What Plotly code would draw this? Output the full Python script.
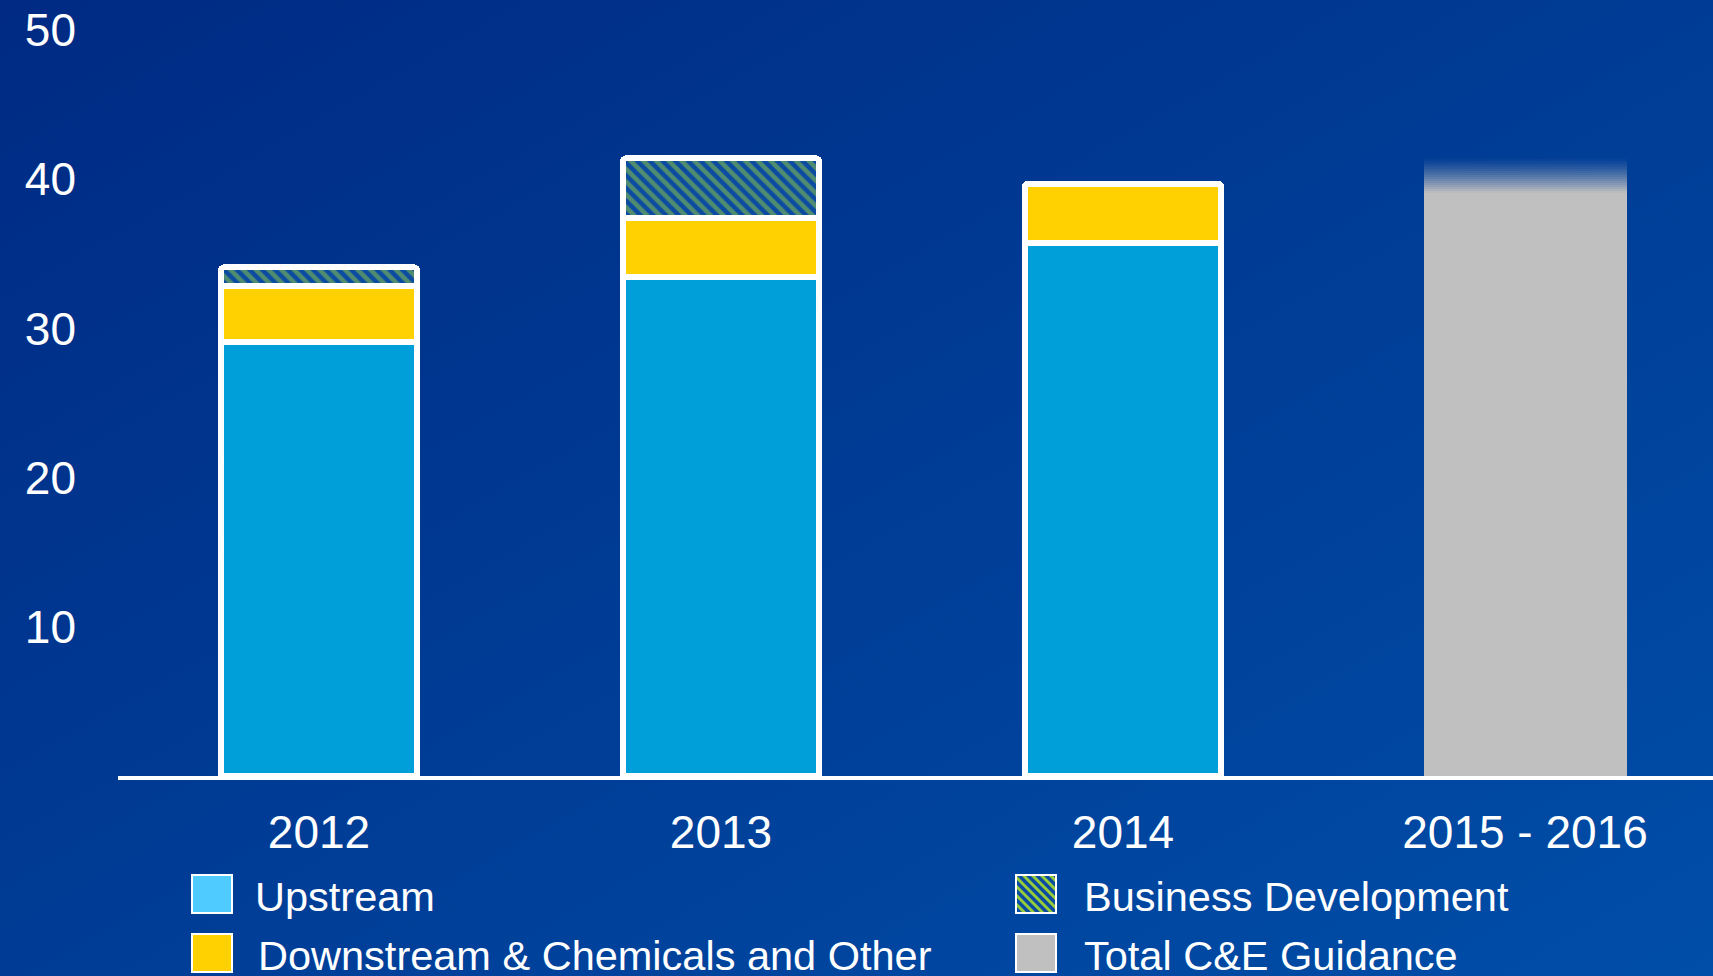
import base64
import plotly.graph_objects as go

# Capital & exploration spend by segment (billions)
categories = ["2012", "2013", "2014", "2015 - 2016"]
upstream = [29.1, 33.45, 35.7, None]
downstream_chem_other = [3.75, 3.95, 4.0, None]
business_development = [1.25, 4.0, None, None]
guidance_low = [None, None, None, 39.1]
guidance_high = [None, None, None, 41.5]
y_ticks = [10, 20, 30, 40, 50]

legend_labels = ["Upstream", "Downstream & Chemicals and Other",
                 "Business Development", "Total C&E Guidance"]

# Page geometry
W, H = 1713, 976
ML, MR, MT, MB = 118, 0, 30, 200
PW, PH = W - ML - MR, H - MT - MB

FONT = "Liberation Sans, Arial, sans-serif"
C_UP = "#009FDA"
C_UP_KEY = "#4FCBFF"
C_DOWN = "#FFD100"
C_BD_LINE = "#96CB3C"
C_BD_BG = "#0B4CA2"
C_GUIDE = "#C0C0C0"
GUIDE_WIDTH = 0.505


def px(x):
    return (x - ML) / PW


def py(y):
    return (H - MB - y) / PH


fig = go.Figure()

outline = dict(color="white", width=6)

fig.add_trace(go.Bar(x=categories, y=upstream, name=legend_labels[0],
                     marker=dict(color=C_UP, line=outline), showlegend=False))
fig.add_trace(go.Bar(x=categories, y=downstream_chem_other, name=legend_labels[1],
                     marker=dict(color=C_DOWN, line=outline), showlegend=False))
fig.add_trace(go.Bar(x=categories, y=business_development, name=legend_labels[2],
                     marker=dict(color=C_BD_BG, line=outline,
                                 pattern=dict(shape="\\", fgcolor=C_BD_LINE,
                                              bgcolor=C_BD_BG, size=9,
                                              solidity=0.5)),
                     showlegend=False))

# Guidance bar: solid up to the low end, soft fade up to the high end
fig.add_trace(go.Bar(x=categories, y=guidance_low, name=legend_labels[3],
                     width=GUIDE_WIDTH,
                     marker=dict(color=C_GUIDE, line=dict(width=0)),
                     showlegend=False))
n_fade = 18
for i in range(n_fade):
    seg = [None if (lo is None or hi is None) else (hi - lo) / n_fade
           for lo, hi in zip(guidance_low, guidance_high)]
    alpha = (1 - (i + 0.5) / n_fade) ** 1.3
    fig.add_trace(go.Bar(x=categories, y=seg, width=GUIDE_WIDTH,
                         marker=dict(color=f"rgba(192,192,192,{alpha:.3f})",
                                     line=dict(width=0)),
                         showlegend=False, hoverinfo="skip"))

# Background gradient
svg = (
    f"<svg xmlns='http://www.w3.org/2000/svg' width='{W}' height='{H}' "
    f"viewBox='0 0 {W} {H}' preserveAspectRatio='none'>"
    "<defs><linearGradient id='g' x1='0' y1='0' x2='1' y2='1'>"
    "<stop offset='0' stop-color='#002A83'/>"
    "<stop offset='1' stop-color='#004EA8'/>"
    "</linearGradient></defs>"
    f"<rect width='{W}' height='{H}' fill='url(#g)'/></svg>"
)
bg_src = "data:image/svg+xml;base64," + base64.b64encode(svg.encode()).decode()

images = [dict(source=bg_src, xref="paper", yref="paper",
               x=px(0), y=py(0), sizex=W / PW, sizey=H / PH,
               xanchor="left", yanchor="top", sizing="stretch",
               layer="below")]

# Custom legend
shapes = []
annotations = []
key_w, key_h = 40, 38
entries = [
    (legend_labels[0], C_UP_KEY, False, 192, 875, 253),
    (legend_labels[1], C_DOWN, False, 192, 934, 256),
    (legend_labels[2], C_BD_BG, True, 1016, 875, 1082),
    (legend_labels[3], C_GUIDE, False, 1016, 934, 1082),
]
for label, color, hatched, kx, ky, tx in entries:
    x0, x1, y0, y1 = kx, kx + key_w, ky, ky + key_h
    shapes.append(dict(type="rect", xref="paper", yref="paper",
                       x0=px(x0), x1=px(x1), y0=py(y1), y1=py(y0),
                       fillcolor=color, line=dict(width=0), layer="above"))
    if hatched:
        step = 9
        parts = []
        c = -(y1 - y0)
        while c < (x1 - x0):
            if c >= 0:
                sx, sy = x0 + c, y0
            else:
                sx, sy = x0, y0 - c
            t = min(x1 - sx, y1 - sy)
            parts.append(f"M{px(sx):.5f},{py(sy):.5f} L{px(sx + t):.5f},{py(sy + t):.5f}")
            c += step
        shapes.append(dict(type="path", xref="paper", yref="paper",
                           path=" ".join(parts),
                           line=dict(color=C_BD_LINE, width=3), layer="above"))
    shapes.append(dict(type="rect", xref="paper", yref="paper",
                       x0=px(x0), x1=px(x1), y0=py(y1), y1=py(y0),
                       fillcolor="rgba(0,0,0,0)",
                       line=dict(color="white", width=2), layer="above"))
    annotations.append(dict(text=label, xref="paper", yref="paper",
                            x=px(tx), y=py((y0 + y1) / 2 + 2),
                            xanchor="left", yanchor="middle", showarrow=False,
                            font=dict(family=FONT, size=41.5, color="white")))

fig.update_layout(
    width=W, height=H,
    margin=dict(l=ML, r=MR, t=MT, b=MB, pad=0),
    paper_bgcolor="#003D95",
    plot_bgcolor="rgba(0,0,0,0)",
    barmode="stack",
    bargap=0.51,
    barcornerradius=4,
    showlegend=False,
    images=images,
    shapes=shapes,
    annotations=annotations,
    font=dict(family=FONT, color="white"),
    xaxis=dict(type="category", range=[-0.5, PW / 402 - 0.5],
               showline=True, linecolor="white", linewidth=4,
               ticks="", showgrid=False, zeroline=False,
               tickfont=dict(family=FONT, size=46, color="white"),
               ticklabelstandoff=13),
    yaxis=dict(range=[0, 50], tickvals=y_ticks,
               ticktext=[str(v) for v in y_ticks],
               showline=False, showgrid=False, zeroline=False, ticks="",
               tickfont=dict(family=FONT, size=46, color="white"),
               ticklabelstandoff=41),
)

fig.write_html("out.html")
